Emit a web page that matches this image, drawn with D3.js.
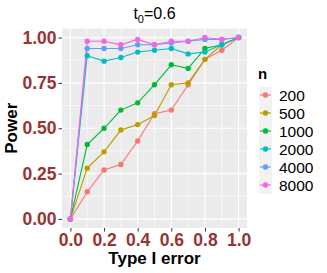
<!DOCTYPE html>
<html><head><meta charset="utf-8">
<script src="https://cdn.jsdelivr.net/npm/d3@7"></script>
<style>body{margin:0;background:#fff}svg{display:block}text{font-family:"Liberation Sans",Arial,sans-serif}</style>
</head><body><svg id="c" width="327" height="273"></svg>
<script>
const xVals = [0,0.1,0.2,0.3,0.4,0.5,0.6,0.7,0.8,0.9,1.0];
const n200  = [0,0.15,0.27,0.30,0.43,0.58,0.60,0.74,0.88,0.93,1.0];
const n500  = [0,0.28,0.37,0.49,0.52,0.57,0.74,0.75,0.88,0.96,1.0];
const n1000 = [0,0.41,0.50,0.60,0.64,0.74,0.85,0.83,0.94,0.96,1.0];
const n2000 = [0,0.90,0.87,0.89,0.92,0.93,0.94,0.91,0.92,0.96,1.0];
const n4000 = [0,0.94,0.94,0.94,0.96,0.96,0.97,0.98,0.99,0.99,1.0];
const n8000 = [0,0.98,0.98,0.96,0.99,0.96,0.98,0.98,1.0,0.99,1.0];
const seriesNames = ["200","500","1000","2000","4000","8000"];
const seriesVals = [n200,n500,n1000,n2000,n4000,n8000];
const colors = ["#F8766D","#B79F00","#00BA38","#00BFC4","#619CFF","#F564E3"];
const xTicks = [0,0.2,0.4,0.6,0.8,1.0];
const yTicks = [0,0.25,0.5,0.75,1.0];

const svg = d3.select("#c");
const L=62, R=247, T=28.5, B=228;
const x = d3.scaleLinear().domain([-0.05,1.05]).range([L,R]);
const y = d3.scaleLinear().domain([-0.05,1.05]).range([B,T]);

svg.append("rect").attr("x",L).attr("y",T).attr("width",R-L).attr("height",B-T).attr("fill","#EBEBEB");
const g = svg.append("g");
[0.1,0.3,0.5,0.7,0.9].forEach(v=>g.append("line").attr("x1",x(v)).attr("x2",x(v)).attr("y1",T).attr("y2",B).attr("stroke","#fff").attr("stroke-width",0.6));
[0.125,0.375,0.625,0.875].forEach(v=>g.append("line").attr("y1",y(v)).attr("y2",y(v)).attr("x1",L).attr("x2",R).attr("stroke","#fff").attr("stroke-width",0.6));
xTicks.forEach(v=>g.append("line").attr("x1",x(v)).attr("x2",x(v)).attr("y1",T).attr("y2",B).attr("stroke","#fff").attr("stroke-width",1.2));
yTicks.forEach(v=>g.append("line").attr("y1",y(v)).attr("y2",y(v)).attr("x1",L).attr("x2",R).attr("stroke","#fff").attr("stroke-width",1.2));

const line = d3.line().x((d,i)=>x(xVals[i])).y(d=>y(d));
seriesVals.forEach((s,k)=>{
  svg.append("path").attr("d",line(s)).attr("fill","none").attr("stroke",colors[k]).attr("stroke-width",1.1);
});
seriesVals.forEach((s,k)=>{
  svg.append("g").selectAll("circle").data(s).join("circle")
    .attr("cx",(d,i)=>x(xVals[i])).attr("cy",d=>y(d)).attr("r",2.7).attr("fill",colors[k]);
});

const xa = svg.append("g").attr("transform",`translate(0,${B})`)
  .call(d3.axisBottom(x).tickValues(xTicks).tickFormat(d3.format(".1f")).tickSize(3.5).tickPadding(2));
const ya = svg.append("g").attr("transform",`translate(${L},0)`)
  .call(d3.axisLeft(y).tickValues(yTicks).tickFormat(d3.format(".2f")).tickSize(3.5).tickPadding(2));
[xa,ya].forEach(a=>{
  a.select(".domain").remove();
  a.selectAll(".tick line").attr("stroke","#333");
  a.selectAll(".tick text").attr("fill","#993333").attr("font-size","17.5px").attr("font-weight","bold");
});

const t = svg.append("text").attr("x",(L+R)/2).attr("y",19).attr("text-anchor","middle").attr("font-size","16px").attr("fill","#000");
t.append("tspan").text("t");
t.append("tspan").attr("font-size","11px").attr("dy",4).text("0");
t.append("tspan").attr("dy",-4).text("=0.6");

svg.append("text").attr("x",(L+R)/2).attr("y",264).attr("text-anchor","middle").attr("font-size","17px").attr("font-weight","bold").text("Type I error");
svg.append("text").attr("transform",`translate(17,${(T+B)/2}) rotate(-90)`).attr("text-anchor","middle").attr("font-size","17px").attr("font-weight","bold").text("Power");

const lg = svg.append("g");
lg.append("text").attr("x",258).attr("y",79).attr("font-size","15px").attr("font-weight","bold").text("n");
lg.append("rect").attr("x",259).attr("y",87).attr("width",13).attr("height",107).attr("fill","#F2F2F2");
seriesNames.forEach((nm,k)=>{
  const cy = 95 + k*18;
  lg.append("line").attr("x1",260).attr("x2",271).attr("y1",cy).attr("y2",cy).attr("stroke",colors[k]).attr("stroke-width",1.1);
  lg.append("circle").attr("cx",265.5).attr("cy",cy).attr("r",2.7).attr("fill",colors[k]);
  lg.append("text").attr("x",279).attr("y",cy+5.5).attr("font-size","15.5px").text(nm);
});
</script></body></html>
